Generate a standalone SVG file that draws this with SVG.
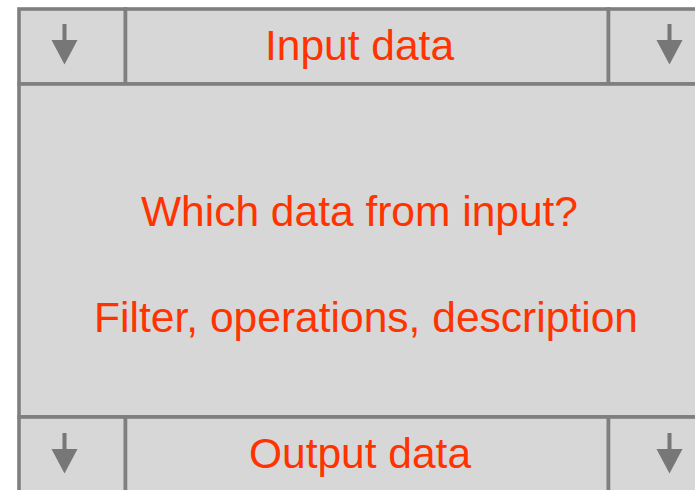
<svg xmlns="http://www.w3.org/2000/svg" xmlns:xlink="http://www.w3.org/1999/xlink" width="695" height="490" viewBox="0 0 695 490">
  <style>
    .cell { fill: #d7d7d7; stroke: #7f7f7f; stroke-width: 3.6; }
    .label { font-family: "Liberation Sans", Arial, sans-serif; font-size: 42.5px; fill: #ff3300; }
    .mid { text-anchor: middle; }
  </style>
  <defs>
    <g id="down-arrow">
      <rect x="-2" y="0" width="4" height="16.5" fill="#777777"/>
      <polygon points="-13,16 13,16 0,40.5" fill="#777777"/>
    </g>
  </defs>
  <rect width="695" height="490" fill="#ffffff"/>

  <!-- top row -->
  <g id="in-left">
    <rect class="cell" x="19" y="9" width="106.5" height="75"/>
    <use xlink:href="#down-arrow" x="64.5" y="24"/>
  </g>
  <g id="input-data">
    <rect class="cell" x="125.5" y="9" width="483" height="75"/>
    <text class="label mid" x="359.5" y="60">Input data</text>
  </g>
  <g id="in-right">
    <rect class="cell" x="608.5" y="9" width="120" height="75"/>
    <use xlink:href="#down-arrow" x="669.5" y="24"/>
  </g>

  <!-- body -->
  <g id="body">
    <rect class="cell" x="19" y="84" width="710" height="333"/>
    <text class="label mid" x="359.5" y="225.5">Which data from input?</text>
    <text class="label" x="94" y="332" textLength="544">Filter, operations, description</text>
  </g>

  <!-- bottom row -->
  <g id="out-left">
    <rect class="cell" x="19" y="417" width="106.5" height="100"/>
    <use xlink:href="#down-arrow" x="64.5" y="433"/>
  </g>
  <g id="output-data">
    <rect class="cell" x="125.5" y="417" width="483" height="100"/>
    <text class="label mid" x="360" y="467.5">Output data</text>
  </g>
  <g id="out-right">
    <rect class="cell" x="608.5" y="417" width="120" height="100"/>
    <use xlink:href="#down-arrow" x="669.5" y="433"/>
  </g>

  <g id="connectors"/>
</svg>
